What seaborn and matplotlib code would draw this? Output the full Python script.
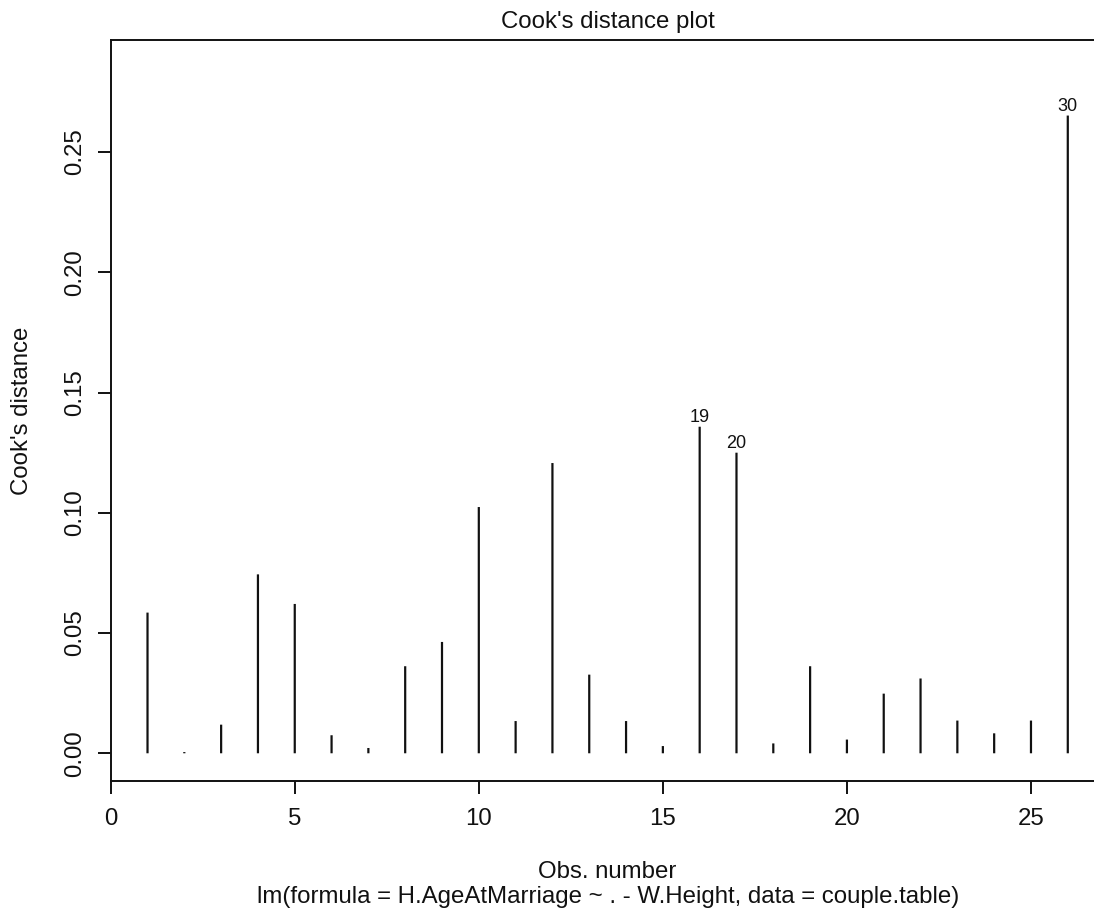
import matplotlib
matplotlib.use("Agg")
import matplotlib.pyplot as plt
import numpy as np
import pandas as pd
import seaborn as sns

# Cook's distance for each observation of the fitted model
obs_number = list(range(1, 27))
cooks_d = [0.0585, 0.0005, 0.0119, 0.0744, 0.0621, 0.0075, 0.0022, 0.0362,
           0.0463, 0.1024, 0.0134, 0.1207, 0.0327, 0.0134, 0.0030, 0.1358,
           0.1250, 0.0041, 0.0362, 0.0057, 0.0248, 0.0311, 0.0136, 0.0083,
           0.0136, 0.2652]
# row names of the three most influential observations
flagged_obs = [16, 17, 26]
flagged_names = ["19", "20", "30"]

x_ticks = [0, 5, 10, 15, 20, 25]
y_ticks = [0.00, 0.05, 0.10, 0.15, 0.20, 0.25]

title = "Cook's distance plot"
x_label = "Obs. number"
y_label = "Cook's distance"
sub_title = "lm(formula = H.AgeAtMarriage ~ . - W.Height, data = couple.table)"

df = pd.DataFrame({"obs": obs_number, "cook": cooks_d})

sns.set_style("white")
plt.rcParams["font.family"] = ["Liberation Sans", "DejaVu Sans"]

W, H = 1094, 911
fig = plt.figure(figsize=(W / 100, H / 100), dpi=100)
fig.patch.set_facecolor("white")

# plot region in pixels; the right edge runs past the canvas
left_px, right_px, top_px, bottom_px = 110.7, 1104.6, 40.3, 780.7
ax = fig.add_axes([left_px / W, 1 - bottom_px / H,
                   (right_px - left_px) / W, (bottom_px - top_px) / H])
ax.set_facecolor("white")

sns.barplot(data=df, x="obs", y="cook", native_scale=True, width=0.06,
            color="#111111", saturation=1, errorbar=None,
            edgecolor="none", linewidth=0, ax=ax)
for p in ax.patches:
    p.set_snap(False)

n = len(obs_number)
ymx = max(cooks_d) * 1.075
ax.set_xlim(1 - 0.04 * (n - 1), n + 0.04 * (n - 1))
ax.set_ylim(-0.04 * ymx, ymx * 1.04)

ax.set_xticks(x_ticks)
ax.set_xticklabels([str(t) for t in x_ticks])
ax.set_yticks(y_ticks)
ax.set_yticklabels([f"{t:.2f}" for t in y_ticks], rotation=90, va="center")
ax.set_xlabel("")
ax.set_ylabel("")

fs = 17.3
ax.tick_params(axis="both", direction="out", length=9.5, width=1.4,
               colors="#111111", labelsize=fs, bottom=True, left=True,
               top=False, right=False)
ax.tick_params(axis="x", pad=10)
ax.tick_params(axis="y", pad=8.5)
for sp in ax.spines.values():
    sp.set_visible(True)
    sp.set_linewidth(1.4)
    sp.set_color("#111111")

# identify the influential points above their bars
for o, name in zip(flagged_obs, flagged_names):
    val = cooks_d[obs_number.index(o)]
    ax.annotate(name, xy=(o, val), xytext=(0, 6.5), textcoords="offset points",
                ha="center", va="center", fontsize=fs * 0.75, color="#111111")

cx = (left_px + right_px) / 2 / W
fig.text(cx, 1 - 28.3 / H, title, ha="center", va="baseline",
         fontsize=fs, color="#111111")
fig.text(cx, 1 - 878.3 / H, x_label, ha="center", va="baseline",
         fontsize=fs, color="#111111")
fig.text(cx, 1 - 902.7 / H, sub_title, ha="center", va="baseline",
         fontsize=fs, color="#111111")
fig.text(22 / W, 1 - 410.5 / H, y_label, ha="center", va="center",
         rotation=90, fontsize=fs, color="#111111")

fig.savefig("out.png", dpi=100, facecolor="white")
